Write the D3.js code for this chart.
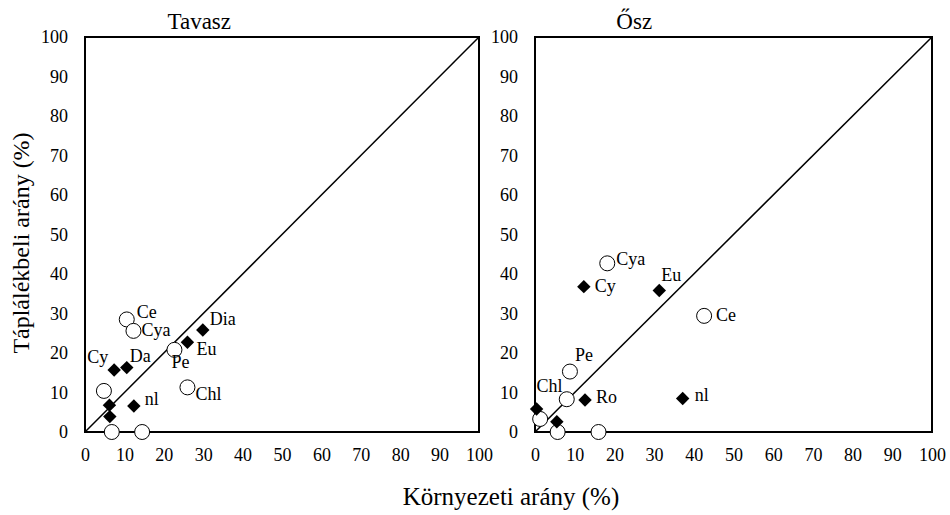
<!DOCTYPE html>
<html>
<head>
<meta charset="utf-8">
<script src="https://cdn.jsdelivr.net/npm/d3@7"></script>
<style>
  body { margin: 0; background: #fff; }
</style>
</head>
<body>
<svg id="chart" width="950" height="515" font-family="Liberation Serif"></svg>
<script>
// tick values shared by both panels
var ticks = [0, 10, 20, 30, 40, 50, 60, 70, 80, 90, 100];

// Tavasz (spring)
var tavaszLabels = ["Ce", "Cya", "Dia", "Eu", "Pe", "Cy", "Da", "Chl", "", "", "", "nl", "", ""];
var tavaszMarker = ["o", "o", "d", "d", "o", "d", "d", "o", "o", "d", "d", "d", "o", "o"];
var tavaszX = [10.6, 12.3, 29.9, 26.0, 22.7, 7.4, 10.6, 26.0, 4.8, 6.2, 6.3, 12.4, 6.8, 14.5];
var tavaszY = [28.5, 25.6, 25.8, 22.7, 20.8, 15.7, 16.3, 11.3, 10.4, 6.8, 3.9, 6.6, 0, 0];

// Ősz (autumn)
var oszLabels = ["Cya", "Cy", "Eu", "Ce", "Pe", "", "Ro", "nl", "Chl", "", "", "", ""];
var oszMarker = ["o", "d", "d", "o", "o", "o", "d", "d", "d", "o", "d", "o", "o"];
var oszX = [18.2, 12.3, 31.3, 42.6, 8.8, 8.0, 12.6, 37.2, 0.4, 1.3, 5.5, 5.7, 16.0];
var oszY = [42.7, 36.8, 35.8, 29.4, 15.3, 8.3, 8.1, 8.5, 5.8, 3.3, 2.6, 0, 0];

var svg = d3.select("#chart");
var FONT = "Liberation Serif";

// label offsets (px) relative to the marker centre
var offsets = {
  tavasz: {Ce: [10, -1], Cya: [8, 5], Dia: [7, -5], Eu: [9, 13], Pe: [-3, 18],
           Cy: [-27, -7], Da: [3, -6], Chl: [8, 13], nl: [11, -1]},
  osz: {Cya: [9, 2], Cy: [11, 5], Eu: [2, -10], Ce: [12, 5], Pe: [5, -11],
        Ro: [11, 3], nl: [12, 3], Chl: [0, -17]}
};

function panel(left, right, title, titleX, xs, ys, markers, labels, offs) {
  var x = d3.scaleLinear().domain([0, 100]).range([left, right]);
  var y = d3.scaleLinear().domain([0, 100]).range([432, 37]);
  var g = svg.append("g");

  g.append("g")
      .attr("transform", "translate(0,432)")
      .call(d3.axisBottom(x).tickValues(ticks).tickSize(0).tickPadding(16))
      .call(function(a) {
        a.attr("font-family", FONT).attr("font-size", 18);
        a.select(".domain").remove();
      });

  g.append("g")
      .attr("transform", "translate(" + left + ",0)")
      .call(d3.axisLeft(y).tickValues(ticks).tickSize(0).tickPadding(17))
      .call(function(a) {
        a.attr("font-family", FONT).attr("font-size", 18);
        a.select(".domain").remove();
      });

  // 1:1 line
  g.append("line")
      .attr("x1", x(0)).attr("y1", y(0))
      .attr("x2", x(100)).attr("y2", y(100))
      .attr("stroke", "#000").attr("stroke-width", 1.5);

  g.append("rect")
      .attr("x", x(0)).attr("y", y(100))
      .attr("width", x(100) - x(0)).attr("height", y(0) - y(100))
      .attr("fill", "none").attr("stroke", "#000").attr("stroke-width", 2);

  var idx = d3.range(xs.length);

  g.selectAll(".circ")
      .data(idx.filter(function(i) { return markers[i] === "o"; }))
    .enter().append("circle")
      .attr("cx", function(i) { return x(xs[i]); })
      .attr("cy", function(i) { return y(ys[i]); })
      .attr("r", 7.5)
      .attr("fill", "#fff")
      .attr("stroke", "#000")
      .attr("stroke-width", 1);

  g.selectAll(".diam")
      .data(idx.filter(function(i) { return markers[i] === "d"; }))
    .enter().append("path")
      .attr("d", d3.symbol().type(d3.symbolDiamond2).size(115))
      .attr("transform", function(i) { return "translate(" + x(xs[i]) + "," + y(ys[i]) + ")"; })
      .attr("fill", "#000");

  g.selectAll(".lab")
      .data(idx.filter(function(i) { return labels[i] !== ""; }))
    .enter().append("text")
      .attr("x", function(i) { return x(xs[i]) + offs[labels[i]][0]; })
      .attr("y", function(i) { return y(ys[i]) + offs[labels[i]][1]; })
      .attr("font-family", FONT)
      .attr("font-size", 18)
      .text(function(i) { return labels[i]; });

  svg.append("text")
      .attr("x", x(titleX))
      .attr("y", 29)
      .attr("text-anchor", "middle")
      .attr("font-family", FONT)
      .attr("font-size", 23)
      .text(title);
}

panel(85, 479, "Tavasz", 29, tavaszX, tavaszY, tavaszMarker, tavaszLabels, offsets.tavasz);
panel(535, 932, "Ősz", 25, oszX, oszY, oszMarker, oszLabels, offsets.osz);

svg.append("text")
    .attr("x", 511).attr("y", 505)
    .attr("text-anchor", "middle")
    .attr("font-family", FONT)
    .attr("font-size", 25)
    .text("Környezeti arány (%)");

svg.append("text")
    .attr("transform", "translate(29,243) rotate(-90)")
    .attr("text-anchor", "middle")
    .attr("font-family", FONT)
    .attr("font-size", 24)
    .text("Táplálékbeli arány (%)");
</script>
</body>
</html>
